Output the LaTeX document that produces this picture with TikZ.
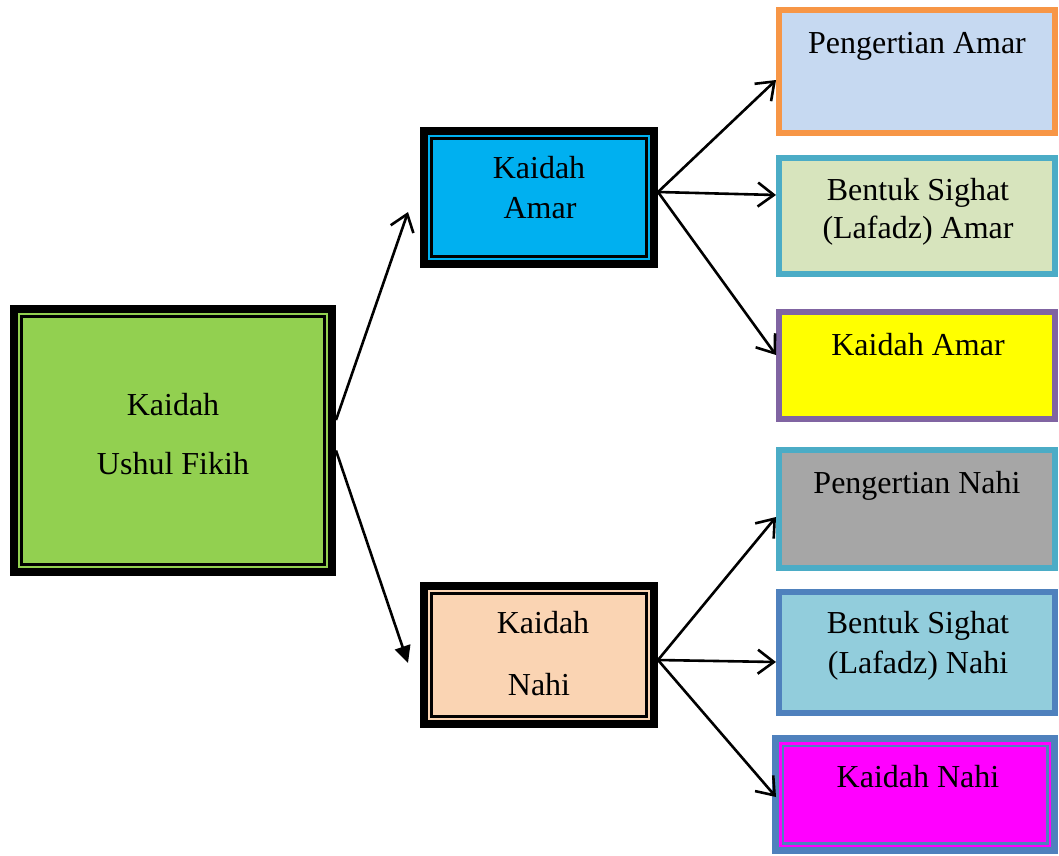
\documentclass[tikz,border=0pt]{standalone}
\usepackage{fontspec}
\setmainfont{Liberation Serif}
\usetikzlibrary{arrows.meta}
\definecolor{cGreen}{HTML}{92D050}
\definecolor{cBlue}{HTML}{00B0F0}
\definecolor{cPeach}{HTML}{FAD4B3}
\definecolor{cPAfill}{HTML}{C6D9F1}
\definecolor{cOrange}{HTML}{F79646}
\definecolor{cBAfill}{HTML}{D7E4BD}
\definecolor{cTeal}{HTML}{4BACC6}
\definecolor{cYellow}{HTML}{FFFF00}
\definecolor{cPurple}{HTML}{8064A2}
\definecolor{cGray}{HTML}{A6A6A6}
\definecolor{cBNfill}{HTML}{92CDDC}
\definecolor{cSteel}{HTML}{4F81BD}
\definecolor{cMagenta}{HTML}{FF00FF}
\begin{document}
\begin{tikzpicture}[x=1pt,y=-1pt,
  box/.style={rectangle, inner sep=0pt},
  bigbox/.style={box, draw=black, line width=8pt},
  smallbox/.style={box, line width=6pt},
  innerline/.style={line width=2.4pt},
  txt/.style={font=\fontsize{32}{40}\selectfont, anchor=base, inner sep=0pt},
  conn/.style={line width=2.6pt, -{Straight Barb[length=16pt,width=24pt,line width=2.6pt]}},
  connf/.style={line width=2.6pt, -{Triangle[length=17pt,width=16pt]}}
]
\useasboundingbox (0,0) rectangle (1059,855);

% left big box
\node[bigbox, fill=cGreen, minimum width=318pt, minimum height=263pt] (g) at (173,440.5) {};
\draw[innerline, black] ([xshift=11.5pt,yshift=-11.5pt]g.north west) rectangle ([xshift=-11.5pt,yshift=11.5pt]g.south east);

% middle boxes
\node[bigbox, fill=cBlue, minimum width=230pt, minimum height=133pt] (a) at (539,197.5) {};
\draw[innerline, black] ([xshift=11.5pt,yshift=-11.5pt]a.north west) rectangle ([xshift=-11.5pt,yshift=11.5pt]a.south east);
\node[bigbox, fill=cPeach, minimum width=230pt, minimum height=138pt] (n) at (539,655) {};
\draw[innerline, black] ([xshift=11.5pt,yshift=-11.5pt]n.north west) rectangle ([xshift=-11.5pt,yshift=11.5pt]n.south east);

% right boxes
\node[smallbox, draw=cOrange, fill=cPAfill, minimum width=276pt, minimum height=123pt] (pa) at (917,71.5) {};
\node[smallbox, draw=cTeal, fill=cBAfill, minimum width=276pt, minimum height=116pt] (ba) at (917,216) {};
\node[smallbox, draw=cPurple, fill=cYellow, minimum width=276pt, minimum height=107pt] (ka) at (917,365.5) {};
\node[smallbox, draw=cTeal, fill=cGray, minimum width=276pt, minimum height=118pt] (pn) at (917,509) {};
\node[smallbox, draw=cSteel, fill=cBNfill, minimum width=276pt, minimum height=121pt] (bn) at (917,652.5) {};
\node[box, draw=cSteel, line width=7pt, fill=cMagenta, minimum width=279pt, minimum height=112pt] (kn) at (915,794.5) {};
\draw[innerline, cSteel] ([xshift=10.7pt,yshift=-10.7pt]kn.north west) rectangle ([xshift=-10.7pt,yshift=10.7pt]kn.south east);

% texts
\node[txt] (tg1) at (173,415) {Kaidah};
\node[txt] (tg2) at (173,474) {Ushul Fikih};
\node[txt] (ta1) at (539,178) {Kaidah};
\node[txt] (ta2) at (540,218) {Amar};
\node[txt] (tn1) at (543,633) {Kaidah};
\node[txt] (tn2) at (539,695) {Nahi};
\node[txt] (tpa) at (917,53) {Pengertian Amar};
\node[txt] (tba1) at (918,200) {Bentuk Sighat};
\node[txt] (tba2) at (918,238) {(Lafadz) Amar};
\node[txt] (tka) at (918,355) {Kaidah Amar};
\node[txt] (tpn) at (917,493) {Pengertian Nahi};
\node[txt] (tbn1) at (918,633) {Bentuk Sighat};
\node[txt] (tbn2) at (918,673) {(Lafadz) Nahi};
\node[txt] (tkn) at (918,787) {Kaidah Nahi};

% connectors
\draw[conn] ([yshift=20.5pt]g.east) -- ([xshift=-12pt,yshift=-14.5pt]a.west);
\draw[connf] ([yshift=-10pt]g.east) -- ([xshift=-12pt,yshift=-8pt]n.west);
\draw[conn] ([yshift=5.5pt]a.east) -- ([yshift=-8.5pt]pa.west);
\draw[conn] ([yshift=5.5pt]a.east) -- ([yshift=21pt]ba.west);
\draw[conn] ([yshift=5.5pt]a.east) -- ([yshift=10.5pt]ka.west);
\draw[conn] ([yshift=-5pt]n.east) -- ([yshift=-8pt]pn.west);
\draw[conn] ([yshift=-5pt]n.east) -- ([yshift=-9.5pt]bn.west);
\draw[conn] ([yshift=-5pt]n.east) -- ([xshift=4pt,yshift=-2.5pt]kn.west);
\end{tikzpicture}
\end{document}
